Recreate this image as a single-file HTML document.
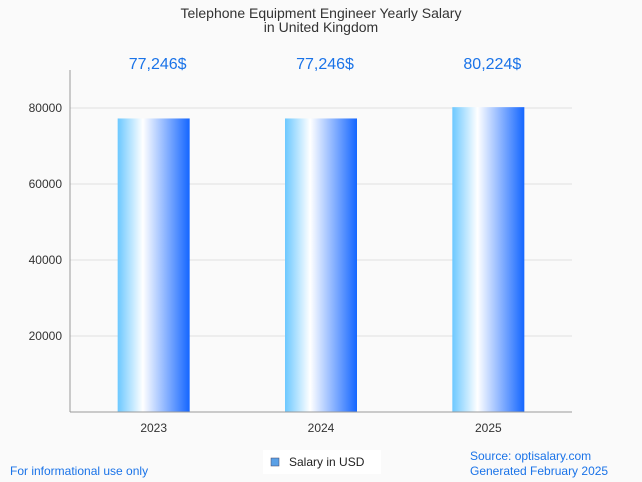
<!DOCTYPE html>
<html><head><meta charset="utf-8"><style>
body{margin:0;background:#fafafa;font-family:"Liberation Sans",sans-serif;}
svg{display:block}
</style></head><body>
<svg width="642" height="482" xmlns="http://www.w3.org/2000/svg">
<defs><linearGradient id="g" x1="0" x2="1" y1="0" y2="0">
<stop offset="0" stop-color="#6cc8ff"/><stop offset="0.35" stop-color="#ffffff"/><stop offset="1" stop-color="#1466ff"/>
</linearGradient></defs>
<rect width="642" height="482" fill="#fafafa"/>
<text x="321" y="18" text-anchor="middle" font-size="14" fill="#333">Telephone Equipment Engineer Yearly Salary</text>
<text x="321" y="32" text-anchor="middle" font-size="14" fill="#333">in United Kingdom</text>
<g id="grid"></g><g id="bars"></g>
<line x1="70" y1="70" x2="70" y2="412" stroke="#999"/>
<line x1="70" y1="412" x2="572" y2="412" stroke="#999"/>
<rect x="263" y="450" width="118" height="24" fill="#fff"/>
<rect x="271" y="458" width="8" height="8" fill="#5aa0e6" stroke="#446" stroke-width="0.5"/>
<text x="289" y="466" font-size="12" fill="#222">Salary in USD</text>
<text x="10" y="475" font-size="12" fill="#1a73e8">For informational use only</text>
<text x="470" y="460" font-size="12" fill="#1a73e8">Source: optisalary.com</text>
<text x="470" y="475" font-size="12" fill="#1a73e8">Generated February 2025</text>
</svg>
<script>
const categories=["2023","2024","2025"];
const values=[77246,77246,80224];
const valueLabels=["77,246$","77,246$","80,224$"];
const yTicks=[20000,40000,60000,80000];
const NS="http://www.w3.org/2000/svg";
const x0=70,x1=572,yb=412,ymax=90000,ph=342;
const y=v=>yb-v/ymax*ph;
const bw=(x1-x0)/categories.length;
const cx=i=>x0+bw*(i+0.5);
function mk(t,a,p){const e=document.createElementNS(NS,t);for(const k in a)e.setAttribute(k,a[k]);p.appendChild(e);return e;}
const grid=document.getElementById('grid'),bars=document.getElementById('bars');
yTicks.forEach(v=>{
 const l=mk('line',{x1:x0,x2:x1,y1:y(v),y2:y(v),stroke:'#e0e0e0'},grid);
 
 
 const t=mk('text',{x:62,y:y(v)+4,'text-anchor':'end','font-size':12,fill:'#333'},grid);
 t.textContent=v;
 
 
});
categories.forEach((c,i)=>{
 const r=mk('rect',{x:cx(i)-36,y:y(values[i]),width:72,height:yb-y(values[i]),fill:'url(#g)'},bars);
 
 
 const t=mk('text',{x:cx(i),y:432,'text-anchor':'middle','font-size':12,fill:'#333'},bars);
 t.textContent=c;
 
 
 const v=mk('text',{x:cx(i)+4,y:69,'text-anchor':'middle','font-size':16,fill:'#1a73e8'},bars);
 v.textContent=valueLabels[i];
 
 
});
</script>
</body></html>
